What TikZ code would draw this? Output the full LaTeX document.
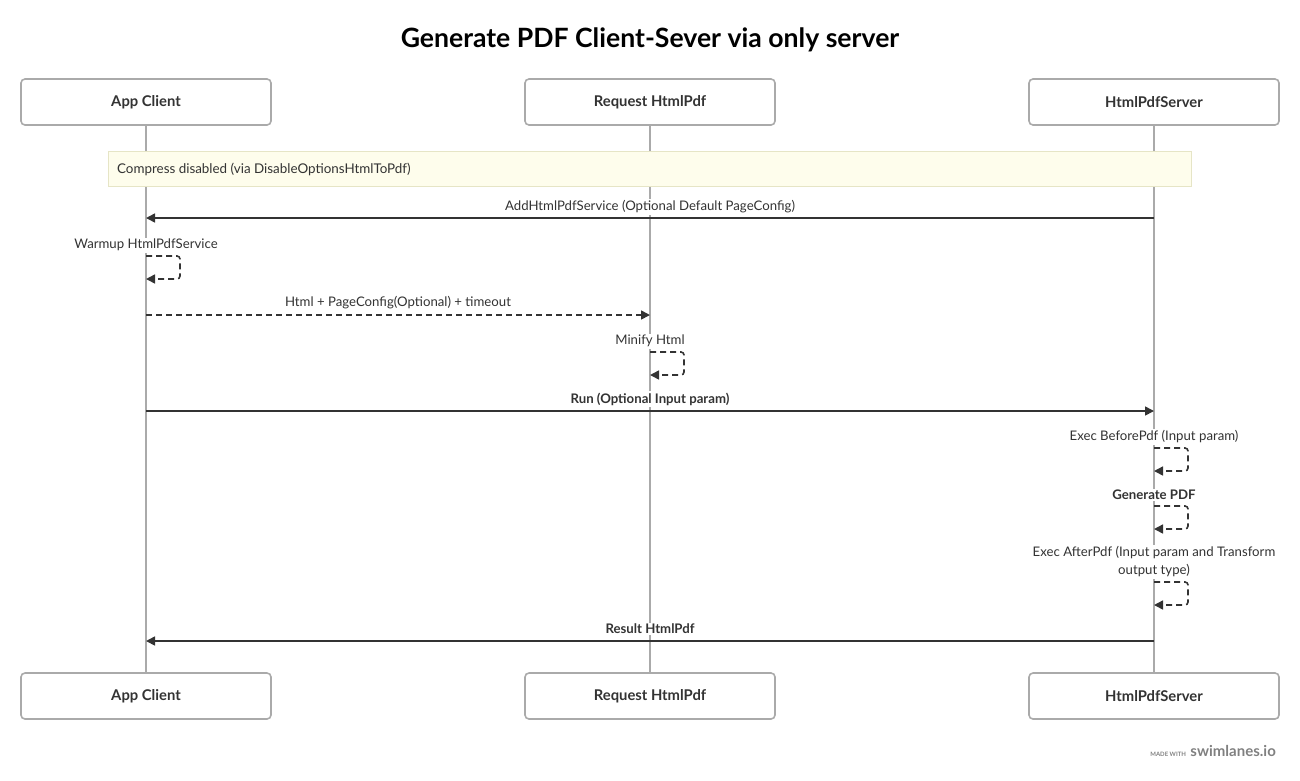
\documentclass[tikz,border=0pt]{standalone}
\usepackage{fontspec}
\setmainfont{Lato}
\usetikzlibrary{arrows.meta}
\definecolor{ink}{HTML}{333333}
\definecolor{lane}{HTML}{AAAAAA}
\definecolor{notefill}{HTML}{FEFDEC}
\definecolor{noteline}{HTML}{E6E5C6}
\begin{document}
\begin{tikzpicture}[x=1pt,y=-1pt]
\tikzstyle{actor}=[draw=lane,line width=1.6pt,rounded corners=4pt,fill=white,minimum width=250pt,minimum height=46pt,text=ink,font=\fontsize{14.8}{16}\selectfont\bfseries]
\tikzstyle{lifeline}=[draw=lane,line width=1.6pt]
\tikzstyle{lbl}=[fill=white,text=ink,inner sep=1.5pt,font=\fontsize{13.2}{15}\selectfont]
\tikzstyle{msg}=[draw=ink,line width=1.6pt,-{Triangle[length=9pt,width=9pt]}]
\tikzstyle{msgdash}=[msg,dash pattern=on 6pt off 4pt]
\tikzstyle{selfloop}=[msgdash,rounded corners=3pt]
\useasboundingbox (0,0) rectangle (1300,780);
    \node[text=black,font=\fontsize{26.6}{30}\selectfont\bfseries] (title) at (650,39.5) {Generate PDF Client-Sever via only server};
    % participants
    \node[actor] (cliT) at (146,102) {App Client};
    \node[actor] (reqT) at (650,102) {Request HtmlPdf};
    \node[actor] (srvT) at (1154,102) {HtmlPdfServer};
    \node[actor] (cliB) at (146,696) {App Client};
    \node[actor] (reqB) at (650,696) {Request HtmlPdf};
    \node[actor] (srvB) at (1154,696) {HtmlPdfServer};
    \path (cliT) edge [lifeline] (cliB);
    \path (reqT) edge [lifeline] (reqB);
    \path (srvT) edge [lifeline] (srvB);
    % note
    \node[draw=noteline,fill=notefill,line width=0.8pt,minimum width=1083pt,minimum height=35pt,inner sep=0pt] (note) at (649.5,168.5) {};
    \node[anchor=west,text=ink,font=\fontsize{13.4}{15}\selectfont] (notetxt) at (note.west) [xshift=6pt,yshift=-1pt] {Compress disabled (via DisableOptionsHtmlToPdf)};
    % messages
    \draw[msg] (srvT |- 0,218) -- (cliT |- 0,218);
    \node[lbl] (m1) at (650,207) {AddHtmlPdfService (Optional Default PageConfig)};
    \node[lbl] (m2) at (146,245) {Warmup HtmlPdfService};
    \draw[selfloop] (cliT |- 0,256) -- ++(34,0) -- ++(0,23) -- (cliT |- 0,279);
    \draw[msgdash] (cliT |- 0,315) -- (reqT |- 0,315);
    \node[lbl] (m3) at (398,303) {Html + PageConfig(Optional) + timeout};
    \node[lbl] (m4) at (650,341) {Minify Html};
    \draw[selfloop] (reqT |- 0,352) -- ++(34,0) -- ++(0,23) -- (reqT |- 0,375);
    \draw[msg] (cliT |- 0,411) -- (srvT |- 0,411);
    \node[lbl,font=\fontsize{13.2}{15}\selectfont\bfseries] (m5) at (650,399) {Run (Optional Input param)};
    \node[lbl] (m6) at (1154,437) {Exec BeforePdf (Input param)};
    \draw[selfloop] (srvT |- 0,448) -- ++(34,0) -- ++(0,23) -- (srvT |- 0,471);
    \node[lbl,font=\fontsize{13.2}{15}\selectfont\bfseries] (m7) at (1154,495) {Generate PDF};
    \draw[selfloop] (srvT |- 0,506) -- ++(34,0) -- ++(0,23) -- (srvT |- 0,529);
    \node[lbl,align=center,font=\fontsize{13.2}{18}\selectfont] (m8) at (1154,562) {Exec AfterPdf (Input param and Transform\\output type)};
    \draw[selfloop] (srvT |- 0,582) -- ++(34,0) -- ++(0,23) -- (srvT |- 0,605);
    \draw[msg] (srvT |- 0,641) -- (cliT |- 0,641);
    \node[lbl,font=\fontsize{13.2}{15}\selectfont\bfseries] (m9) at (650,629) {Result HtmlPdf};
    % footer
    \node[anchor=base east,text=gray,font=\fontsize{15}{18}\selectfont\bfseries,inner sep=0pt] (brand) at (1276,756) {swimlanes.io};
    \node[anchor=base east,text=gray,font=\fontsize{6}{8}\selectfont\bfseries,inner sep=0pt] (made) at ([xshift=-4pt]brand.base west) {MADE WITH};
\end{tikzpicture}
\end{document}
